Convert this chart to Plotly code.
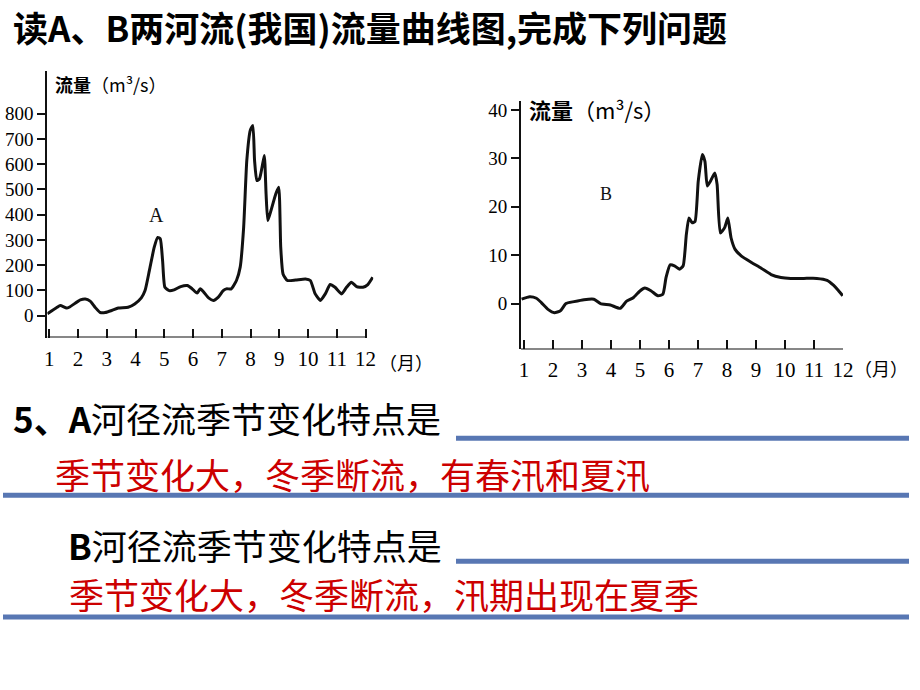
import plotly.graph_objects as go

# ---------------- data ----------------
monthA = [0.93, 1.27, 1.38, 1.6, 1.69, 2.08, 2.25, 2.42, 2.59, 2.76, 2.94, 3.17, 3.40, 3.74, 3.97,
          4.2, 4.33, 4.48, 4.65, 4.77, 4.86, 4.94, 5.02, 5.17, 5.34, 5.57, 5.80, 5.97, 6.14, 6.25,
          6.37, 6.54, 6.71, 6.88, 7.05, 7.16, 7.33, 7.51, 7.64, 7.76, 7.87, 7.99, 8.08, 8.14, 8.22,
          8.31, 8.40, 8.48, 8.54, 8.60, 8.71, 8.88, 8.98, 9.05, 9.13, 9.28, 9.57, 9.91, 10.08,
          10.25, 10.43, 10.60, 10.77, 10.94, 11.17, 11.34, 11.51, 11.69, 11.91, 12.08, 12.25]
flowA = [7, 33, 40, 30, 33, 62, 66, 57, 33, 13, 12, 20, 30, 33, 46,
         70, 99, 178, 271, 310, 304, 218, 112, 99, 102, 115, 119, 106, 89, 106,
         93, 70, 60, 73, 99, 106, 106, 139, 192, 350, 615, 734, 754, 615, 535,
         542, 588, 635, 483, 377, 416, 483, 509, 271, 165, 139, 141, 145, 139,
         86, 60, 86, 123, 112, 86, 112, 132, 115, 112, 123, 152]

monthB = [0.92, 1.2, 1.43, 1.6, 1.83, 2.05, 2.26, 2.45, 2.73, 3.07, 3.41, 3.64, 3.98, 4.32, 4.54,
          4.77, 5.0, 5.17, 5.39, 5.62, 5.79, 5.9, 6.04, 6.19, 6.36, 6.49, 6.6, 6.69, 6.8, 6.9,
          7.01, 7.15, 7.24, 7.32, 7.43, 7.58, 7.66, 7.77, 7.92, 8.03, 8.14, 8.28, 8.5, 8.84,
          9.18, 9.52, 9.86, 10.2, 10.65, 11.1, 11.45, 11.67, 11.84, 11.99]
flowB = [0.9, 1.4, 1.1, 0.2, -1.2, -1.9, -1.5, 0, 0.4, 0.8, 0.9, 0, -0.3, -1.0, 0.5,
         1.2, 2.6, 3.2, 2.6, 1.6, 1.9, 5.4, 8.0, 7.8, 7.1, 7.8, 14.3, 17.7, 16.7, 17.0,
         25.3, 30.8, 29.4, 24.3, 25.3, 27.0, 24.6, 14.6, 15.7, 17.7, 13.6, 11.2, 9.8, 8.5,
         7.3, 6.0, 5.4, 5.2, 5.2, 5.2, 4.8, 3.8, 2.7, 1.6]

month_ticks = list(range(1, 13))
yticksA = [0, 100, 200, 300, 400, 500, 600, 700, 800]
yticksB = [0, 10, 20, 30, 40]

title_text = "<b>读A、B两河流(我国)流量曲线图,完成下列问题</b>"
q1_text = "<b>5、A</b>河径流季节变化特点是"
a1_text = "季节变化大，冬季断流，有春汛和夏汛"
q2_text = "<b>B</b>河径流季节变化特点是"
a2_text = "季节变化大，冬季断流，汛期出现在夏季"
ytitle = "<b>流量</b>（m³/s）"

# ---------------- figure ----------------
W, H = 920, 690
def px(x):
    return x / W
def py(y):
    return 1 - y / H

fig = go.Figure()
fig.add_trace(go.Scatter(x=monthA, y=flowA, mode="lines", xaxis="x", yaxis="y",
                         line=dict(color="#111111", width=3, shape="spline", smoothing=0.5),
                         showlegend=False, hoverinfo="skip"))
fig.add_trace(go.Scatter(x=monthB, y=flowB, mode="lines", xaxis="x2", yaxis="y2",
                         line=dict(color="#111111", width=3, shape="spline", smoothing=0.5),
                         showlegend=False, hoverinfo="skip"))

xtickfont = dict(family="Liberation Serif", size=21, color="#000000")
ytickfont = dict(family="Liberation Serif", size=19, color="#000000")
common_x = dict(tickmode="array", tickvals=month_ticks, ticktext=[str(m) for m in month_ticks],
                ticks="inside", ticklen=9, tickwidth=2, tickcolor="#111111",
                showline=False, showgrid=False, zeroline=False, tickfont=xtickfont,
                ticklabelstandoff=6, fixedrange=True)
common_y = dict(tickmode="array", ticks="outside", ticklen=8, tickwidth=2, tickcolor="#111111",
                showline=True, linecolor="#111111", linewidth=2, showgrid=False, zeroline=False,
                tickfont=ytickfont, fixedrange=True)

fig.update_layout(
    width=W, height=H, margin=dict(l=0, r=0, t=0, b=0),
    paper_bgcolor="white", plot_bgcolor="white",
    xaxis=dict(domain=[px(45), px(376)], range=[0.93, 12.27], anchor="y", **common_x),
    yaxis=dict(domain=[py(337), py(70)], range=[-87, 970], anchor="x",
               tickvals=yticksA, ticktext=[str(v) for v in yticksA], **common_y),
    xaxis2=dict(domain=[px(526), px(853)], range=[0.9, 12.0], anchor="y2", **common_x),
    yaxis2=dict(domain=[py(349), py(100)], range=[-9.5, 41.9], anchor="x2",
                tickvals=yticksB, ticktext=[str(v) for v in yticksB], **common_y),
)

# x-axis lines (drawn as shapes so they stop at the last tick)
fig.add_shape(type="line", xref="x", yref="y", x0=0.93, x1=12.03, y0=-87, y1=-87,
              line=dict(color="#111111", width=2))
fig.add_shape(type="line", xref="x2", yref="y2", x0=0.9, x1=12.0, y0=-9.5, y1=-9.5,
              line=dict(color="#111111", width=2))

# blue answer lines
blue = "#5877b3"
for (x0, x1, y) in [(460, 920, 438), (0, 920, 495), (460, 920, 561), (0, 920, 617)]:
    fig.add_shape(type="line", xref="paper", yref="paper", x0=px(x0), x1=px(x1), y0=py(y), y1=py(y),
                  line=dict(color=blue, width=5))

cjk = "Noto Sans CJK SC"
def note(text, x, y, size, color="#000000", family=cjk, xanchor="left"):
    fig.add_annotation(text=text, xref="paper", yref="paper", x=px(x), y=py(y),
                       xanchor=xanchor, yanchor="middle", showarrow=False,
                       font=dict(family=family, size=size, color=color))

note(title_text, 8, 26, 35)
note(q1_text, 8, 417, 35)
note(a1_text, 51, 473, 35, color="#cc0000")
note(q2_text, 64, 544, 35)
note(a2_text, 65, 593, 35, color="#cc0000")

# axis titles
note(ytitle, 51, 83, 18)
note(ytitle, 532, 108, 22)
note("（月）", 380, 362, 18, family=cjk)
note("（月）", 862, 368, 18, family=cjk)

# series labels
fig.add_annotation(text="A", xref="x", yref="y", x=4.72, y=400, showarrow=False,
                   font=dict(family="Liberation Serif", size=20, color="#111111"))
fig.add_annotation(text="B", xref="x2", yref="y2", x=3.82, y=22.7, showarrow=False,
                   font=dict(family="Liberation Serif", size=18, color="#111111"))

fig.write_html("out.html")
